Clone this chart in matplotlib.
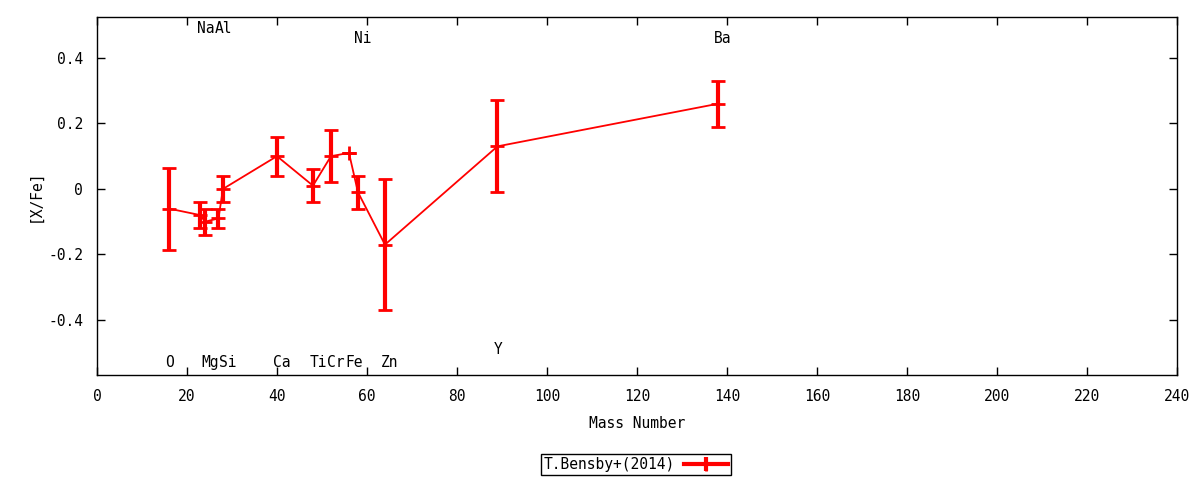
import matplotlib.pyplot as plt
from matplotlib.ticker import FuncFormatter, MultipleLocator

plt.rcParams['font.family'] = ['DejaVu Sans Mono']
plt.rcParams['font.size'] = 10

# Abundance data (T.Bensby+ 2014)
elements = ['O', 'Na', 'Mg', 'Al', 'Si', 'Ca', 'Ti', 'Cr', 'Fe', 'Ni', 'Zn', 'Y', 'Ba']
mass_numbers = [16, 23, 24, 27, 28, 40, 48, 52, 56, 58, 64, 89, 138]
x_fe = [-0.06, -0.08, -0.10, -0.09, 0.00, 0.10, 0.01, 0.10, 0.11, -0.01, -0.17, 0.13, 0.26]
x_fe_err = [0.125, 0.04, 0.04, 0.03, 0.04, 0.06, 0.05, 0.08, 0.0, 0.05, 0.20, 0.14, 0.07]
# where each element name sits on the y axis
label_y = [-0.53, 0.49, -0.53, 0.49, -0.53, -0.53, -0.53, -0.53, -0.53, 0.46, -0.53, -0.49, 0.46]

fig = plt.figure(figsize=(12, 4.8), dpi=100)
ax = fig.add_axes([0.0808, 0.2187, 0.9, 0.746])

ax.errorbar(mass_numbers, x_fe, yerr=x_fe_err, color='#ff0000', lw=1.3,
            elinewidth=3, capsize=5, capthick=3, marker='+', ms=10, mew=2)

for el, m, ly in zip(elements, mass_numbers, label_y):
    ax.text(m - 0.8, ly, el, ha='left', va='center', fontsize=10.5)

ax.set_xlim(0, 240)
ax.set_ylim(-0.568, 0.525)
ax.xaxis.set_major_locator(MultipleLocator(20))
ax.yaxis.set_major_locator(MultipleLocator(0.2))
ax.yaxis.set_major_formatter(FuncFormatter(lambda v, p: '0' if abs(v) < 1e-9 else f'{v:g}'))
ax.tick_params(direction='in', top=True, right=True, length=6, width=1, labelsize=10.5, pad=10)
for s in ax.spines.values():
    s.set_linewidth(1)

ax.set_xlabel('Mass Number', fontsize=10.5, labelpad=9)
ax.set_ylabel('[X/Fe]', fontsize=10.5, labelpad=4)

h = ax.errorbar([], [], yerr=[], color='#ff0000', lw=3, elinewidth=3, capsize=5, capthick=3,
                marker='+', ms=10, mew=2)
leg = fig.legend([h], ['T.Bensby+(2014)'], loc='center', bbox_to_anchor=(0.53, 0.032),
                 markerfirst=False, fancybox=False, edgecolor='black', framealpha=1,
                 fontsize=10.5, handlelength=3, borderpad=0.2, handletextpad=0.6)
leg.get_frame().set_linewidth(1)

fig.savefig('out.png', dpi=100)
